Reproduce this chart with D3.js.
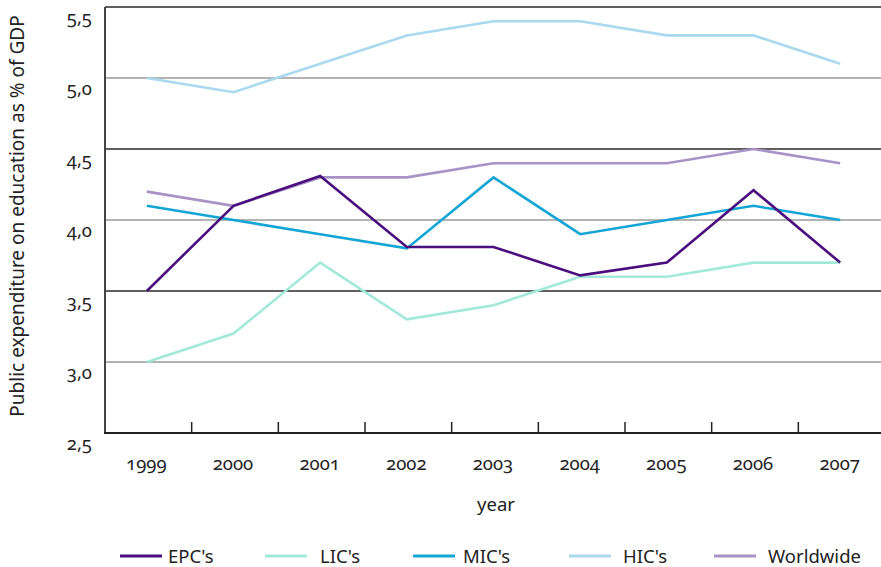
<!DOCTYPE html>
<html><head><meta charset="utf-8">
<script src="https://cdn.jsdelivr.net/npm/d3@7"></script>
<style>
body{margin:0;background:#fff;}
text{font-family:"Noto Sans","Open Sans",sans-serif;fill:#222;font-variant-numeric:oldstyle-nums;}
</style></head>
<body>
<svg id="chart" width="881" height="567"></svg>
<script>
const years = ["1999","2000","2001","2002","2003","2004","2005","2006","2007"];
const epc = [3.5, 4.1, 4.31, 3.81, 3.81, 3.61, 3.7, 4.21, 3.7];
const lic = [3.0, 3.2, 3.7, 3.3, 3.4, 3.6, 3.6, 3.7, 3.7];
const mic = [4.1, 4.0, 3.9, 3.8, 4.3, 3.9, 4.0, 4.1, 4.0];
const hic = [5.0, 4.9, 5.1, 5.3, 5.4, 5.4, 5.3, 5.3, 5.1];
const worldwide = [4.2, 4.1, 4.3, 4.3, 4.4, 4.4, 4.4, 4.5, 4.4];
const yTicks = [2.5, 3.0, 3.5, 4.0, 4.5, 5.0, 5.5];
const seriesNames = ["EPC's","LIC's","MIC's","HIC's","Worldwide"];
const seriesColors = ["#4a0e7e","#a3e9d9","#13a5d6","#a9d9ef","#a992c6"];

const series = [
  {name:"HIC's", values:hic, color:seriesColors[3]},
  {name:"Worldwide", values:worldwide, color:seriesColors[4]},
  {name:"LIC's", values:lic, color:seriesColors[1]},
  {name:"MIC's", values:mic, color:seriesColors[2]},
  {name:"EPC's", values:epc, color:seriesColors[0]}
];

const FS = 18.5;
const svg = d3.select("#chart");
const mLeft = 105, mRight = 885, mTop = 7, mBottom = 433;
const x = d3.scaleBand().domain(years).range([mLeft, mRight]);
const y = d3.scaleLinear().domain([2.5, 5.5]).range([mBottom, mTop]);

// gridlines
svg.append("g").selectAll("line").data(yTicks.filter(d => d > 2.5)).join("line")
  .attr("x1", mLeft).attr("x2", 881)
  .attr("y1", d => y(d)).attr("y2", d => y(d))
  .attr("stroke", d => (Math.round(d*10) % 10 === 0) ? "#9a9a9a" : "#2a2a2a")
  .attr("stroke-width", 1.5);

// y tick labels
const fmt = d => d.toFixed(1).replace(".", ",");
svg.append("g").selectAll("text").data(yTicks).join("text")
  .attr("x", 92).attr("y", d => y(d) + 17)
  .attr("text-anchor", "end").attr("font-size", FS)
  .text(fmt);

// axes lines
svg.append("line").attr("x1", mLeft).attr("x2", mLeft).attr("y1", mTop).attr("y2", mBottom)
  .attr("stroke", "#444").attr("stroke-width", 2);
svg.append("line").attr("x1", mLeft - 1).attr("x2", 881).attr("y1", mBottom).attr("y2", mBottom)
  .attr("stroke", "#222").attr("stroke-width", 2);

// x ticks (between categories, pointing up)
svg.append("g").selectAll("line").data(years.slice(1)).join("line")
  .attr("x1", d => x(d)).attr("x2", d => x(d))
  .attr("y1", mBottom - 11).attr("y2", mBottom)
  .attr("stroke", "#222").attr("stroke-width", 1.5);

// x labels
svg.append("g").selectAll("text").data(years).join("text")
  .attr("x", d => x(d) + x.bandwidth()/2 - 2).attr("y", 470)
  .attr("text-anchor", "middle").attr("font-size", FS)
  .text(d => d);

svg.append("text").attr("x", 496).attr("y", 511).attr("text-anchor", "middle")
  .attr("font-size", FS).text("year");

svg.append("text").attr("transform", "translate(24,216) rotate(-90)")
  .attr("text-anchor", "middle").attr("font-size", 19)
  .text("Public expenditure on education as % of GDP");

// lines
const line = d3.line().x((d,i) => x(years[i]) + x.bandwidth()/2 - 1.5).y(d => y(d));
svg.append("g").selectAll("path").data(series).join("path")
  .attr("d", d => line(d.values))
  .attr("fill", "none").attr("stroke", d => d.color)
  .attr("stroke-width", 2.6).attr("stroke-linejoin", "miter");

// legend
const legendX = [120, 265, 413, 569, 714];
const legendTextDx = [48, 55, 50, 54, 54];
const lg = svg.append("g").selectAll("g").data(seriesNames).join("g")
  .attr("transform", (d,i) => `translate(${legendX[i]},556)`);
lg.append("line").attr("x1", 0).attr("x2", 42).attr("y1", 0).attr("y2", 0)
  .attr("stroke", (d,i) => seriesColors[i]).attr("stroke-width", 3);
lg.append("text").attr("x", (d,i) => legendTextDx[i]).attr("y", 7)
  .attr("font-size", FS).text(d => d);
</script>
</body></html>
